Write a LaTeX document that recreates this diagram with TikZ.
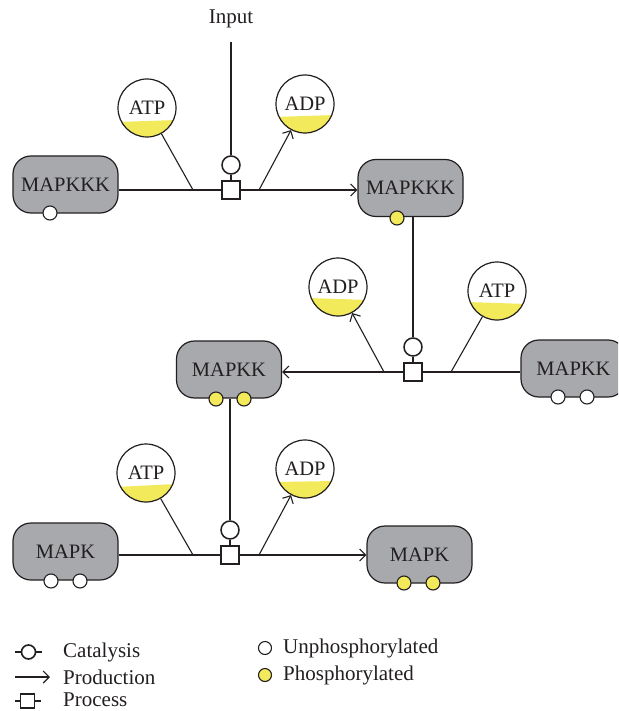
\documentclass[tikz,border=0pt]{standalone}
\usepackage{fontspec}
\setmainfont{Liberation Serif}
\usetikzlibrary{arrows.meta}
\definecolor{linec}{HTML}{231F20}
\definecolor{boxgray}{HTML}{A7A9AC}
\definecolor{phy}{HTML}{F2EA5A}
\tikzset{
  box/.style={draw=linec, fill=boxgray, rounded corners=18pt, minimum width=105pt, minimum height=57pt, line width=1.2pt, inner sep=0pt, text=linec, font=\fontsize{20.5}{24}\selectfont},
  mol/.style={circle, draw=linec, minimum size=58pt, line width=1.2pt, inner sep=0pt, text=linec, font=\fontsize{20.5}{24}\selectfont},
  proc/.style={draw=linec, fill=white, minimum size=18pt, inner sep=0pt, line width=1.2pt},
  cat/.style={circle, draw=linec, fill=white, minimum size=18pt, inner sep=0pt, line width=1.5pt},
  unph/.style={circle, draw=linec, fill=white, minimum size=14pt, inner sep=0pt, line width=1.1pt},
  phos/.style={unph, fill=phy},
  wire/.style={draw=linec, line width=1.1pt},
  prod/.style={wire, -{Straight Barb[length=6pt,width=12pt,line width=1.1pt]}},
  lbl/.style={text=linec, inner sep=0pt, font=\fontsize{21}{24}\selectfont},
}
\newcommand\molec[6]{%
  \begin{scope}
    \clip (#2,#3) circle (29pt);
    \fill[phy] (#2-30,#3+#5) -- (#2+30,#3+#6) -- (#2+30,#3+31) -- (#2-30,#3+31) -- cycle;
  \end{scope}
  \node[mol] (#1) at (#2,#3) {#4};
}
\begin{document}
\begin{tikzpicture}[x=1pt,y=-1pt]
\useasboundingbox (0,0) rectangle (618,711);
\clip (0,0) rectangle (618,711);
\fill[white] (0,0) rectangle (618,711);

% ---------- top row ----------
\node[lbl] (inp) at (231,19) {Input};
\coordinate (inptop) at (231,42);
\node[box] (k1) at (65.5,184.5) {MAPKKK};
\node[unph] (k1p) at (50,213) {};
\node[box] (k2) at (410.5,188) {MAPKKK};
\node[phos] (k2p) at (397,218) {};
\molec{atp1}{147}{108}{ATP}{14}{12}
\molec{adp1}{305}{104}{ADP}{13}{11}
\node[proc] (sq1) at (231,190) {};
\node[cat] (cat1) at (231,165) {};
\coordinate (j1) at (193,190);
\coordinate (j2) at (259,190);
\draw[wire] (k1.east |- sq1) -- (sq1.west);
\draw[prod] (sq1.east) -- (k2.west |- sq1);
\draw[wire] (atp1) -- (j1);
\draw[prod] (j2) -- (adp1);
\draw[wire] (inptop) -- (cat1);
\draw[wire] (cat1) -- (sq1);

% ---------- middle row ----------
\node[box] (kk1) at (229,369.5) {MAPKK};
\node[phos] (kk1p1) at (216,399) {};
\node[phos] (kk1p2) at (244,399) {};
\node[box] (kk2) at (573.5,368.5) {MAPKK};
\node[unph] (kk2p1) at (558,397) {};
\node[unph] (kk2p2) at (587,397) {};
\molec{adp2}{338}{287}{ADP}{11}{13}
\molec{atp2}{497}{291}{ATP}{11}{13}
\node[proc] (sq2) at (413,372) {};
\node[cat] (cat2) at (413,347) {};
\coordinate (j3) at (384,372);
\coordinate (j4) at (451,372);
\draw[wire] (kk2.west |- sq2) -- (sq2.east);
\draw[prod] (sq2.west) -- (kk1.east |- sq2);
\draw[prod] (j3) -- (adp2);
\draw[wire] (atp2) -- (j4);
\draw[wire] (cat2 |- k2.south) -- (cat2);
\draw[wire] (cat2) -- (sq2);

% ---------- bottom row ----------
\node[box] (m1) at (65.5,551.5) {MAPK};
\node[unph] (m1p1) at (51,581) {};
\node[unph] (m1p2) at (80,581) {};
\node[box] (m2) at (419.5,554.5) {MAPK};
\node[phos] (m2p1) at (404,583) {};
\node[phos] (m2p2) at (433,583) {};
\molec{atp3}{146}{473}{ATP}{14}{11}
\molec{adp3}{305}{469}{ADP}{13}{12}
\node[proc] (sq3) at (230,555) {};
\node[cat] (cat3) at (230,530) {};
\coordinate (j5) at (193,555);
\coordinate (j6) at (259,555);
\draw[wire] (m1.east |- sq3) -- (sq3.west);
\draw[prod] (sq3.east) -- (m2.west |- sq3);
\draw[wire] (atp3) -- (j5);
\draw[prod] (j6) -- (adp3);
\draw[wire] (cat3 |- kk1.south) -- (cat3);
\draw[wire] (cat3) -- (sq3);

% ---------- legend ----------
\coordinate (lc1) at (15,652);
\coordinate (lc2) at (42,652);
\draw[wire] (lc1) -- (lc2);
\node[circle, draw=linec, fill=white, minimum size=14pt, inner sep=0pt, line width=1.6pt] (lcat) at (28.5,652) {};
\node[lbl, anchor=west] (tcat) at (63,652) {Catalysis};
\coordinate (lp1) at (15,677);
\coordinate (lp2) at (50,677);
\draw[prod] (lp1) -- (lp2);
\node[lbl, anchor=west] (tprod) at (63,677) {Production};
\coordinate (lr1) at (15,701);
\coordinate (lr2) at (41,701);
\draw[wire] (lr1) -- (lr2);
\node[draw=linec, fill=white, minimum size=14pt, inner sep=0pt, line width=1.1pt] (lsq) at (27.5,701) {};
\node[lbl, anchor=west] (tproc) at (63,699.5) {Process};
\node[unph, minimum size=13pt] (lun) at (265,648) {};
\node[lbl, anchor=west] (tun) at (283,648) {Unphosphorylated};
\node[phos, minimum size=13pt] (lph) at (265,675) {};
\node[lbl, anchor=west] (tph) at (283,675) {Phosphorylated};
\end{tikzpicture}
\end{document}
